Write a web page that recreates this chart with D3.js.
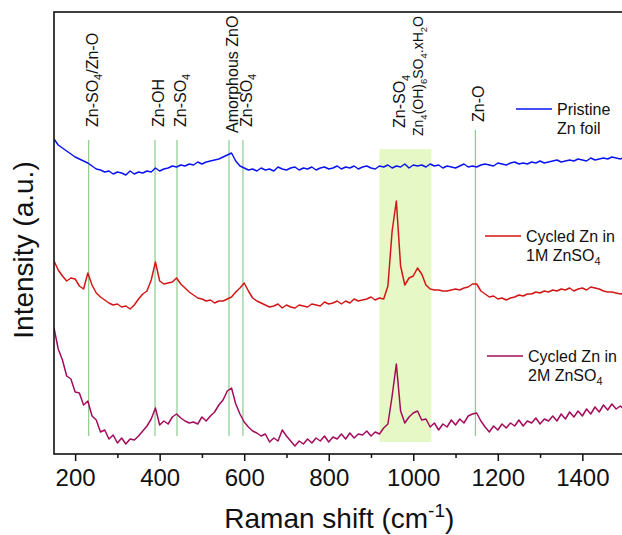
<!DOCTYPE html>
<html>
<meta charset="utf-8">
<style>
body {
	margin: 0;
	background: #fff;
}

svg {
	font-family: "Liberation Sans", Arial, sans-serif;
}

.spec {
	fill: none;
	stroke-width: 1.5;
	stroke-linejoin: round;
}

.axis text {
	font-size: 24px;
	fill: #111;
}

.axis line {
	stroke: #111;
	stroke-width: 1.5;
}

.peak line {
	stroke: #8ccc8a;
	stroke-width: 1.2;
}

.peak text, .legend text {
	font-size: 16px;
	fill: #111;
}
</style>

<body>
<svg id="raman" width="622" height="535"></svg>

<script src="https://cdn.jsdelivr.net/npm/d3@7"></script>

<script>
// Raman shift sampling (cm-1), one value every 10 cm-1 from 150 to 1500
var shift = d3.range(150, 1501, 10);

// intensities (a.u., offset stacked)
var pristine = [
	315,309,306,303,300,297,295,293,291,288,
	285,284,282,283,280,282,281,279,283,280,
	282,281,283,282,286,283,285,286,288,287,
	289,288,290,289,292,290,292,293,294,295,
	297,299,301,293,288,286,284,285,283,286,
	284,285,283,287,285,284,286,287,284,286,
	285,287,284,286,287,285,286,288,285,287,
	286,288,285,287,288,286,285,288,287,289,
	286,288,287,290,286,289,288,289,287,290,
	288,289,286,288,287,286,288,290,287,288,
	287,289,290,289,288,291,290,289,291,292,
	290,291,290,292,291,293,291,292,293,294,
	292,293,294,293,295,294,293,296,294,295,
	296,295,297,296,295,297
];

var cycled1M = [
	193,184,178,173,176,175,168,165,181,169,
	161,157,154,151,149,150,147,148,145,149,
	155,160,163,174,192,173,170,171,172,176,
	170,166,162,159,156,155,153,154,151,153,
	153,155,157,162,166,171,163,156,153,151,
	149,147,148,150,146,149,147,146,149,148,
	147,150,149,148,152,150,151,153,150,153,
	151,155,153,154,155,157,154,156,155,168,
	223,253,188,169,176,178,186,180,169,165,
	164,164,163,163,164,165,164,166,167,170,
	170,163,160,157,158,155,156,154,156,157,
	159,158,160,160,162,161,163,162,164,163,
	165,164,166,163,165,166,164,167,166,165,
	163,162,162,161,160,161
];

var cycled2M = [
	126,105,94,78,75,62,61,49,53,38,
	34,22,24,15,19,11,16,10,15,14,
	18,23,28,35,46,29,33,30,37,40,
	36,33,31,32,30,37,33,38,42,49,
	54,63,66,50,40,32,27,23,21,18,
	20,12,16,13,24,18,13,8,13,10,
	15,11,16,13,18,12,17,15,20,15,
	21,16,20,19,23,18,22,20,26,30,
	58,90,43,31,37,41,43,34,35,27,
	31,24,30,27,34,29,35,31,38,40,
	41,33,27,22,28,24,30,26,31,28,
	34,28,33,31,36,30,35,33,38,33,
	40,35,42,37,43,38,45,40,47,42,
	49,44,50,45,48,44
];

var seriesNames = ["Pristine|Zn foil", "Cycled Zn in|1M ZnSO_4", "Cycled Zn in|2M ZnSO_4"];
var seriesColors = ["#0a14f0", "#d41616", "#a30c5c"];

// assigned bands
var peakShift = [232, 389, 441, 564, 597, 960, 1147];
var peakLabel = ["Zn-SO_4/Zn-O", "Zn-OH", "Zn-SO_4", "Amorphous ZnO", "Zn-SO_4", "Zn-SO_4", "Zn-O"];
var bandRange = [920, 1043];
var bandLabel = "Zn_4(OH)_6SO_4.xH_2O";

var xTicks = [200, 400, 600, 800, 1000, 1200, 1400];
var xMinorTicks = [300, 500, 700, 900, 1100, 1300, 1500];

var plotL = 54, plotR = 624.6, plotT = 12, plotB = 454;

var svg = d3.select("#raman");

var x = d3.scaleLinear()
	.domain([150, 1500])
	.range([plotL, plotR]);

var y = d3.scaleLinear()
	.domain([0, 442])
	.range([plotB, plotT]);

// text with _N subscripts
function richText(sel, str, size) {
	var parts = str.split(/(_\d)/);
	var down = false;
	parts.forEach(function(p) {
		if (!p) return;
		if (p.charAt(0) === "_") {
			sel.append("tspan")
				.attr("font-size", size * 0.68)
				.attr("dy", down ? 0 : size * 0.28)
				.text(p.slice(1));
			down = true;
		} else {
			sel.append("tspan")
				.attr("dy", down ? -size * 0.28 : 0)
				.text(p);
			down = false;
		}
	});
}

// highlight band
svg.append("rect")
	.attr("x", x(bandRange[0]))
	.attr("y", 149)
	.attr("width", x(bandRange[1]) - x(bandRange[0]))
	.attr("height", 442 - 149)
	.attr("fill", "#e5f8c6");

svg.append("clipPath")
	.attr("id", "clip")
	.append("rect")
	.attr("x", plotL)
	.attr("y", plotT)
	.attr("width", plotR - plotL)
	.attr("height", plotB - plotT);

// band lines and labels
var peak = svg.selectAll(".peak")
	.data(peakShift)
	.enter().append("g")
	.attr("class", "peak");

peak.filter(function(d) { return d < bandRange[0] || d > bandRange[1]; })
	.append("line")
	.attr("x1", function(d) { return x(d); })
	.attr("x2", function(d) { return x(d); })
	.attr("y1", function(d) { return d > 1100 ? 130 : 140; })
	.attr("y2", 436);

var labelBottom = [127, 127, 127, 133, 127, 128, 122];

peak.append("text")
	.attr("transform", function(d, i) { return "translate(" + (x(d) + 9) + "," + labelBottom[i] + ") rotate(-90)"; })
	.each(function(d, i) { richText(d3.select(this), peakLabel[i], 16); });

svg.append("g")
	.attr("class", "peak")
	.append("text")
	.attr("transform", "translate(" + (x(960) + 27) + ",136) rotate(-90)")
	.style("font-size", "14px")
	.each(function() { richText(d3.select(this), bandLabel, 14); });

// spectra
var line = d3.line()
	.x(function(d) { return x(d[0]); })
	.y(function(d) { return y(d[1]); });

var allSeries = [pristine, cycled1M, cycled2M];

svg.append("g")
	.attr("clip-path", "url(#clip)")
	.selectAll("path")
	.data(allSeries)
	.enter().append("path")
	.attr("class", "spec")
	.attr("stroke", function(d, i) { return seriesColors[i]; })
	.attr("d", function(d) { return line(d3.zip(shift, d)); });

// frame
svg.append("rect")
	.attr("x", plotL)
	.attr("y", plotT)
	.attr("width", plotR - plotL)
	.attr("height", plotB - plotT)
	.attr("fill", "none")
	.attr("stroke", "#111")
	.attr("stroke-width", 1.6);

// x axis
var ax = svg.append("g")
	.attr("class", "axis")
	.attr("transform", "translate(0," + plotB + ")")
	.call(d3.axisBottom(x).tickValues(xTicks).tickSize(7).tickPadding(8).tickFormat(d3.format("d")));
ax.select(".domain").remove();

var axm = svg.append("g")
	.attr("class", "axis")
	.attr("transform", "translate(0," + plotB + ")")
	.call(d3.axisBottom(x).tickValues(xMinorTicks).tickSize(4).tickFormat(""));
axm.select(".domain").remove();

// axis titles
var xt = svg.append("text")
	.attr("x", (plotL + plotR) / 2)
	.attr("y", 528)
	.attr("text-anchor", "middle")
	.style("font-size", "28px")
	.attr("fill", "#111");
xt.append("tspan").text("Raman shift (cm");
xt.append("tspan").attr("font-size", 19).attr("dy", -11).text("-1");
xt.append("tspan").attr("dy", 11).text(")");

svg.append("text")
	.attr("transform", "translate(33,250) rotate(-90)")
	.attr("text-anchor", "middle")
	.style("font-size", "28px")
	.attr("fill", "#111")
	.text("Intensity (a.u.)");

// legend entries sit beside each trace
var legendPos = [[516, 109], [485, 236], [487, 356]];

var legend = svg.selectAll(".legend")
	.data(seriesNames)
	.enter().append("g")
	.attr("class", "legend")
	.attr("transform", function(d, i) { return "translate(" + legendPos[i][0] + "," + legendPos[i][1] + ")"; });

legend.append("line")
	.attr("x1", 0)
	.attr("x2", 36)
	.attr("stroke", function(d, i) { return seriesColors[i]; })
	.attr("stroke-width", 1.5);

legend.append("text")
	.attr("x", 41)
	.attr("y", 6)
	.each(function(d) { richText(d3.select(this), d.split("|")[0], 16); });

legend.append("text")
	.attr("x", 41)
	.attr("y", 25)
	.each(function(d) { richText(d3.select(this), d.split("|")[1], 16); });
</script>
</body>
</html>
